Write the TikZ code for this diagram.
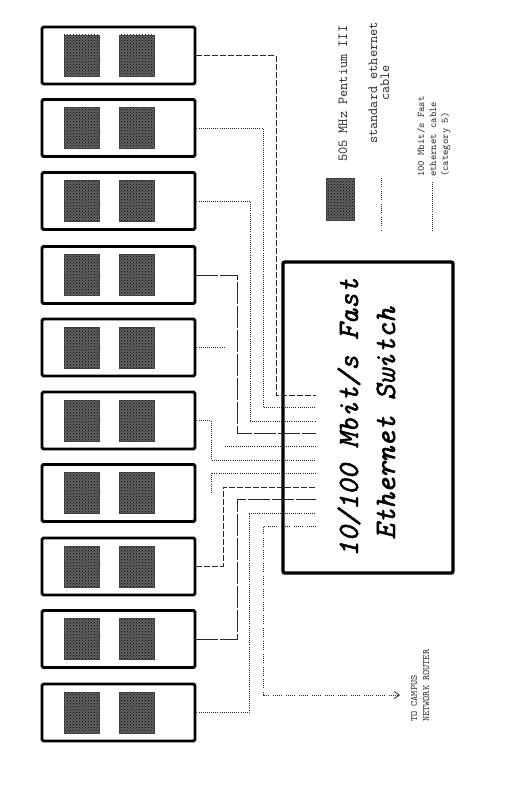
\documentclass[tikz,border=0pt]{standalone}
\usepackage{fontspec}
\newfontfamily\swfont{lmmono10-italic.otf}[FakeBold=1.6]
\usetikzlibrary{arrows.meta,patterns}
\begin{document}
\begin{tikzpicture}[x=1pt,y=-1pt,
  pc/.style={draw, line width=2.9pt, rounded corners=1.5pt, minimum width=153pt, minimum height=57pt, inner sep=0pt},
  chip/.style={preaction={fill=black!62}, pattern=crosshatch dots, pattern color=black, draw=black!75, line width=0.4pt, minimum width=35pt, minimum height=41pt, inner sep=0pt},
  legchip/.style={chip, minimum width=28pt, minimum height=42pt},
  swbox/.style={draw, line width=3.4pt, rounded corners=2pt, minimum width=170pt, minimum height=311pt, inner sep=0pt},
  fast/.style={line width=0.8pt, dash pattern=on 0.9pt off 1.2pt, black!85},
  std/.style={line width=0.8pt, dash pattern=on 0.9pt off 1.1pt on 0.9pt off 1.1pt on 0.9pt off 1.1pt on 0.9pt off 1.1pt on 0.9pt off 4pt, black!85},
  longd/.style={line width=0.8pt, dash pattern=on 6pt off 2pt, black!85},
  solidd/.style={line width=0.8pt, dash pattern=on 22pt off 2pt, black!85},
  swtext/.style={rotate=90, anchor=base, inner sep=0pt, font=\swfont\fontsize{29.5}{32}\selectfont},
  lgtext/.style={rotate=90, inner sep=0pt, text=black!85, font=\ttfamily\fontsize{13.9}{15}\selectfont},
  lgsmall/.style={rotate=90, anchor=base west, inner sep=0pt, text=black!85, font=\ttfamily\fontsize{10.2}{12}\selectfont},
  rttext/.style={rotate=90, anchor=base west, inner sep=0pt, text=black!85, font=\ttfamily\fontsize{9.8}{11}\selectfont}]
\useasboundingbox (0,0) rectangle (527,789);

% PC boxes
\foreach \i/\t in {1/27,2/99.5,3/172.5,4/246.5,5/319,6/392,7/464.5,8/538,9/610.5,10/684}{
  \node[pc] (pc\i) at (118.5,\t+28.5) {};
  \node[chip] (ca\i) at (81.5,\t+28.5) {};
  \node[chip] (cb\i) at (136.5,\t+28.5) {};
}

% switch
\node[swbox] (sw) at (368,417.5) {};
\node[swtext] (sw1) at (358,417.5) {10/100 Mbit/s Fast};
\node[swtext] (sw2) at (395,423.5) {Ethernet Switch};

% switch ports
\coordinate (p1) at (316,395);
\coordinate (p2) at (316,407);
\coordinate (p3) at (316,421);
\coordinate (p4) at (316,433);
\coordinate (p5) at (316,446);
\coordinate (p6) at (316,460);
\coordinate (p7) at (316,473);
\coordinate (p8) at (316,487);
\coordinate (p9) at (316,499);
\coordinate (p10) at (316,513);
\coordinate (p11) at (316,526);

% connectors
\draw[longd] (pc1.east) -| (276,395) -- (p1);
\draw[fast] (pc2.east) -| (263,407) -- (p2);
\draw[fast] (pc3.east) -| (250,421) -- (p3);
\draw[solidd] (pc4.east) -| (237,433) -- (p4);
\coordinate (b5) at (225,347.5);
\coordinate (c5) at (225,446);
\draw[fast] (pc5.east) -- (b5);
\draw[fast] (c5) -- (p5);
\draw[fast] (pc6.east) -| (211,460) -- (p6);
\coordinate (b7) at (211,492);
\draw[fast] (p7) -| (b7);
\draw[longd] (pc8.east) -| (223,487) -- (p8);
\draw[solidd] (pc9.east) -| (237,499) -- (p9);
\draw[fast] (pc10.east) -| (249,513) -- (p10);

% router
\coordinate (rtin) at (400,695);
\draw[std, -{Straight Barb[length=5pt,width=7pt]}] (p11) -| (263,695) -- (rtin);
\node[rttext] (rt1) at (417,722) {TO CAMPUS};
\node[rttext] (rt2) at (429,722) {NETWORK ROUTER};

% legend
\node[legchip] (lchip) at (340.5,199.5) {};
\node[lgtext, anchor=base west] (l1) at (347,162) {505 MHz Pentium III};
\node[lgtext, anchor=base] (l2a) at (377,83) {standard ethernet};
\node[lgtext, anchor=base] (l2b) at (389,83) {cable};
\coordinate (s1) at (381,178);
\coordinate (s2) at (381,230);
\draw[std] (s1) -- (s2);
\node[lgsmall] (l3a) at (424,177) {100 Mbit/s Fast};
\node[lgsmall] (l3b) at (436,177) {ethernet cable};
\node[lgsmall] (l3c) at (448,177) {(category 5)};
\coordinate (f1) at (432,182);
\coordinate (f2) at (432,232);
\draw[fast] (f1) -- (f2);
\end{tikzpicture}
\end{document}
